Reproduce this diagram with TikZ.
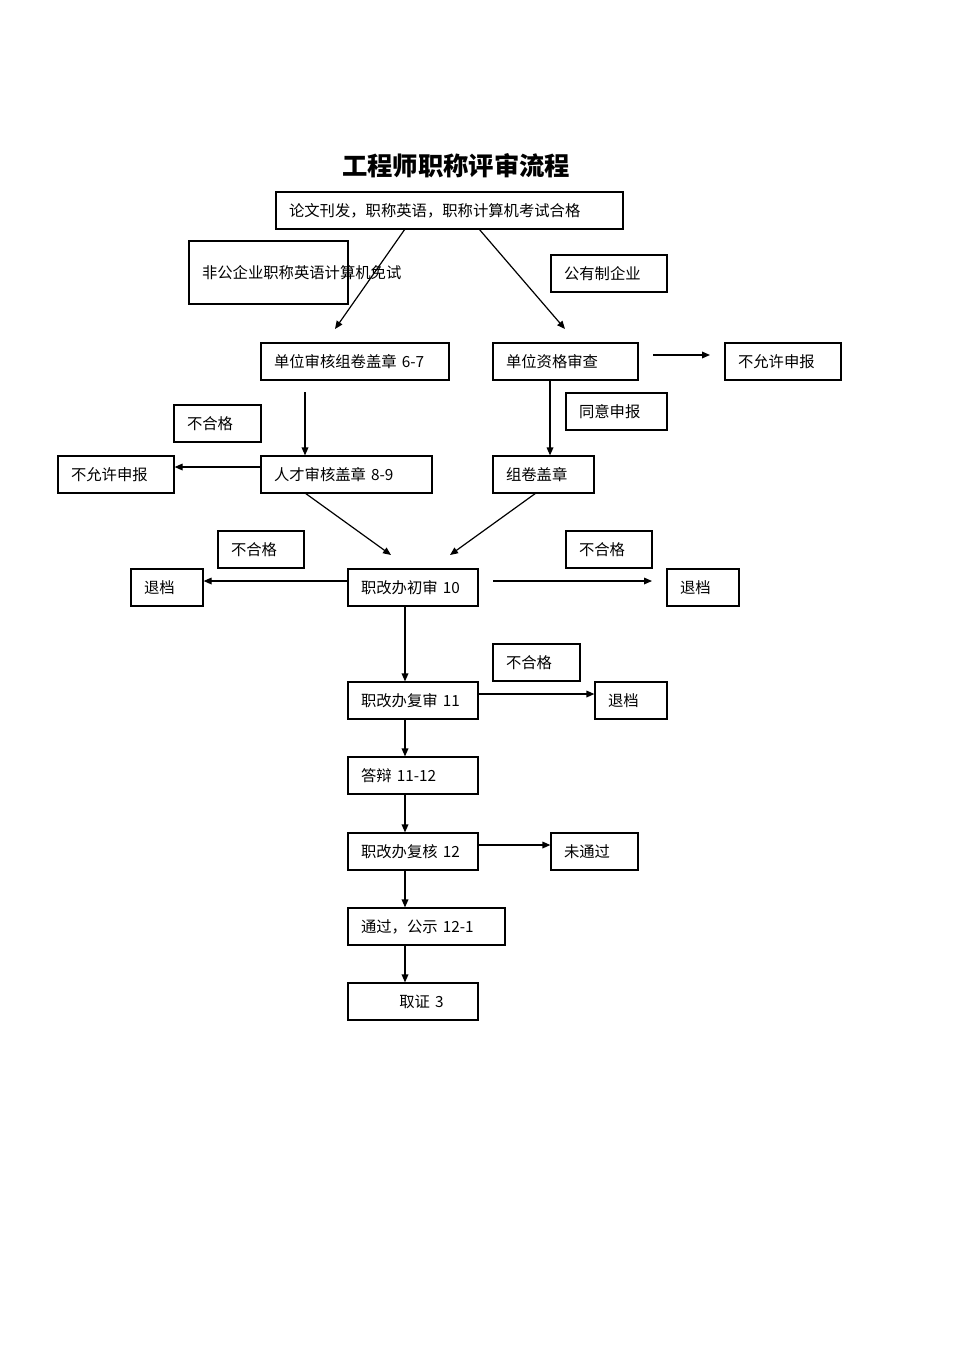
\documentclass[tikz,border=0pt]{standalone}
\usepackage{fontspec}
\setmainfont{Liberation Serif}
\newfontfamily\cjk{Noto Sans CJK SC}
\usetikzlibrary{arrows.meta,calc}
\newcommand{\bx}[6]{%
 \pgfmathsetmacro{\cx}{(#2+#4)/2}\pgfmathsetmacro{\cy}{(#3+#5)/2}%
 \pgfmathsetmacro{\tw}{(#4-#2-26)*0.75}\pgfmathsetmacro{\mh}{(#5-#3)*0.75}%
 \node[box,text width=\tw pt,minimum height=\mh pt] (#1) at (\cx,\cy) {#6};}
\begin{document}
\begin{tikzpicture}[x=0.75pt,y=-0.75pt,
 box/.style={draw,line width=0.9pt,inner xsep=9.75pt,inner ysep=0pt,align=left,font=\cjk\fontsize{11.5}{15}\selectfont},
 arr/.style={-{Triangle[length=6pt,width=5pt]},line width=0.9pt}]
\useasboundingbox (0,0) rectangle (959,1356);
\node[font=\cjk\bfseries\fontsize{19}{22}\selectfont] (title) at (456,166) {工程师职称评审流程};
\bx{top}{276}{192}{623}{229}{论文刊发，职称英语，职称计算机考试合格}
\bx{fg}{189}{241}{348}{304}{非公企业职称英语计算机免试}
\bx{gy}{551}{255}{667}{292}{公有制企业}
\bx{dwsh}{261}{343}{449}{380}{单位审核组卷盖章 6-7}
\bx{dwzg}{493}{343}{638}{380}{单位资格审查}
\bx{byx1}{725}{343}{841}{380}{不允许申报}
\bx{bhg1}{174}{405}{261}{442}{不合格}
\bx{tysb}{566}{393}{667}{430}{同意申报}
\bx{rc}{261}{456}{432}{493}{人才审核盖章 8-9}
\bx{zj}{493}{456}{594}{493}{组卷盖章}
\bx{byx2}{58}{456}{174}{493}{不允许申报}
\bx{bhg2}{218}{531}{304}{568}{不合格}
\bx{bhg3}{566}{531}{652}{568}{不合格}
\bx{td1}{131}{569}{203}{606}{退档}
\bx{cs}{348}{569}{478}{606}{职改办初审 10}
\bx{td2}{667}{569}{739}{606}{退档}
\bx{bhg4}{493}{644}{580}{681}{不合格}
\bx{fs}{348}{682}{478}{719}{职改办复审 11}
\bx{td3}{595}{682}{667}{719}{退档}
\bx{db}{348}{757}{478}{794}{答辩 11-12}
\bx{fh}{348}{833}{478}{870}{职改办复核 12}
\bx{wtg}{551}{833}{638}{870}{未通过}
\bx{gs}{348}{908}{505}{945}{通过，公示 12-1}
\bx{qz}{348}{983}{478}{1020}{\hspace*{2.5em}取证 3}
\coordinate (a1) at (405,229); \coordinate (a2) at (335,329);
\coordinate (b1) at (479,229); \coordinate (b2) at (565,329);
\coordinate (c1) at (653,355); \coordinate (c2) at (710,355);
\coordinate (d1) at (305,392);
\coordinate (e1) at (550,380);
\coordinate (f1) at (305,493); \coordinate (f2) at (391,555);
\coordinate (g1) at (536,493); \coordinate (g2) at (450,555);
\coordinate (h1) at (493,581); \coordinate (h2) at (652,581);
\draw[arr] (a1) -- (a2);
\draw[arr] (b1) -- (b2);
\draw[arr] (c1) -- (c2);
\draw[arr] (d1) -- (d1 |- rc.north);
\draw[arr] (e1) -- (e1 |- zj.north);
\draw[arr] (rc.west |- 0,467) -- (byx2.east |- 0,467);
\draw[arr] (f1) -- (f2);
\draw[arr] (g1) -- (g2);
\draw[arr] (cs.west |- 0,581) -- (td1.east |- 0,581);
\draw[arr] (h1) -- (h2);
\draw[arr] (405,606) coordinate (i1) -- (i1 |- fs.north);
\draw[arr] (fs.east |- 0,694) -- (td3.west |- 0,694);
\draw[arr] (405,719) coordinate (j1) -- (j1 |- db.north);
\draw[arr] (405,794) coordinate (k1) -- (k1 |- fh.north);
\draw[arr] (fh.east |- 0,845) -- (wtg.west |- 0,845);
\draw[arr] (405,870) coordinate (l1) -- (l1 |- gs.north);
\draw[arr] (405,945) coordinate (m1) -- (m1 |- qz.north);
\end{tikzpicture}
\end{document}
